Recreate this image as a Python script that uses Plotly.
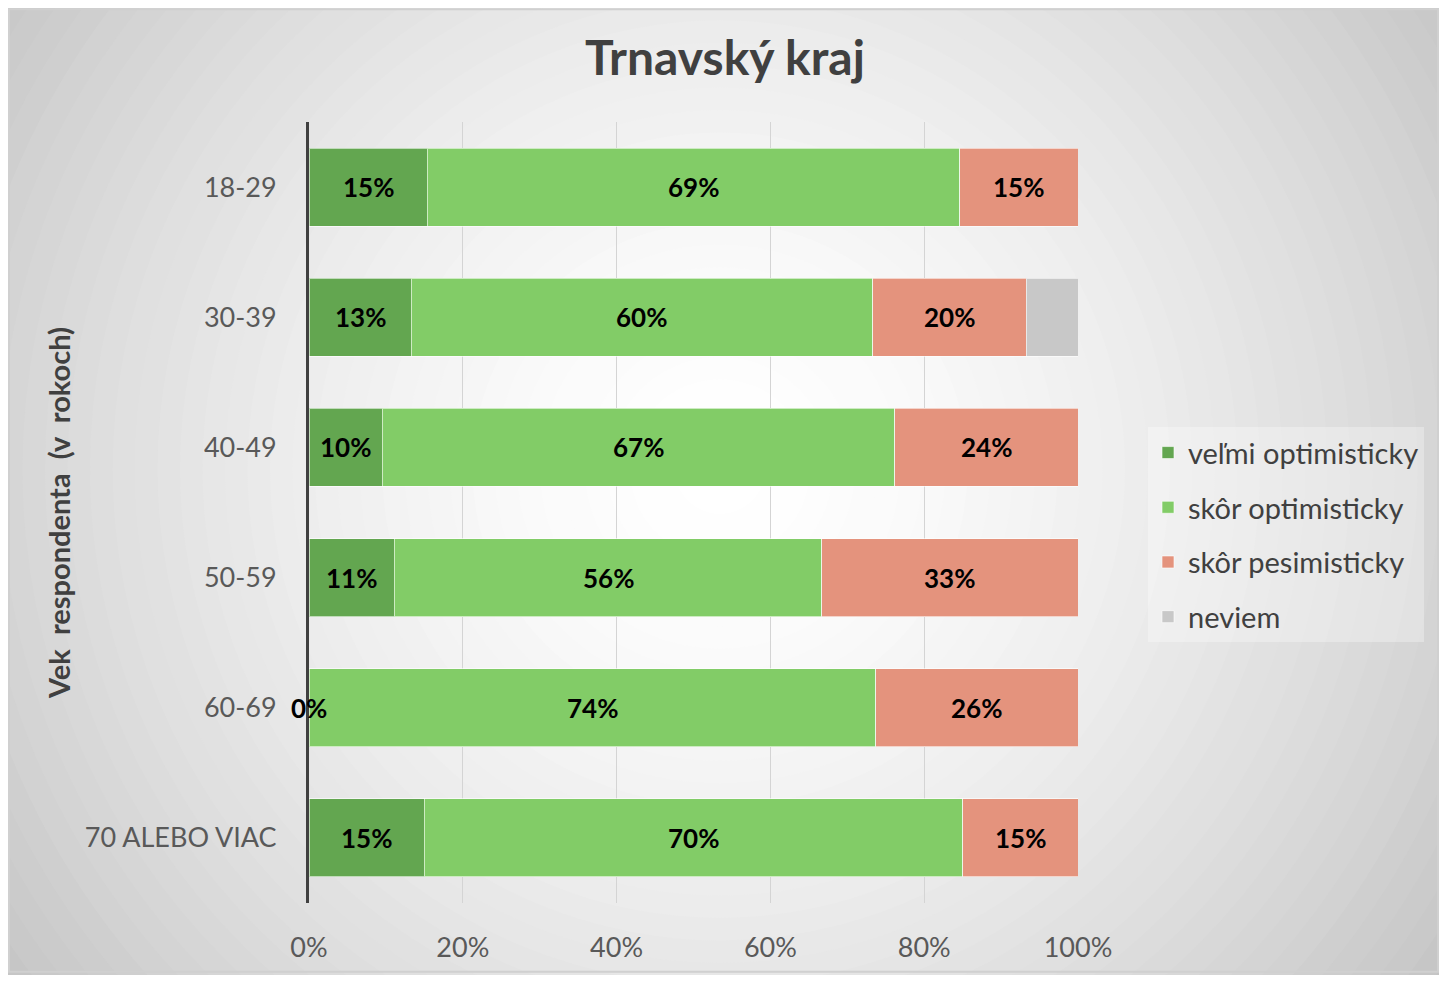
import plotly.graph_objects as go
import numpy as np

categories = ["18-29", "30-39", "40-49", "50-59", "60-69", "70 ALEBO VIAC"]
series_names = ["veľmi optimisticky", "skôr optimisticky", "skôr pesimisticky", "neviem"]
velmi_opt = [15.4, 13.3, 9.5, 11.1, 0.0, 15.0]
skor_opt = [69.2, 60.0, 66.7, 55.6, 73.7, 70.0]
skor_pes = [15.4, 20.0, 23.8, 33.3, 26.3, 15.0]
neviem = [0.0, 6.7, 0.0, 0.0, 0.0, 0.0]
x_ticks = [0, 20, 40, 60, 80, 100]
x_tick_labels = ["0%", "20%", "40%", "60%", "80%", "100%"]

colors = ["#63A650", "#82CC67", "#E4937D", "#C8C8C8"]
label_series = [True, True, True, False]

OFF = 8  # page body margin
W, H = 1447 - 2 * OFF, 983 - 2 * OFF
L, R, T, B = 309 - OFF, 1078 - OFF, 122 - OFF, 905 - OFF
FONT = "Lato, Open Sans, sans-serif"

fig = go.Figure()
series = [velmi_opt, skor_opt, skor_pes, neviem]
for name, vals, col in zip(series_names, series, colors):
    fig.add_trace(go.Bar(
        y=categories, x=vals, name=name, orientation="h",
        marker=dict(color=col, line=dict(color="rgba(255,255,255,0.6)", width=1)),
        legendgroup=name, hoverinfo="skip",
    ))

# data labels at segment centers
annotations = []
cum = np.zeros(len(categories))
for vals, show in zip(series, label_series):
    v = np.array(vals)
    if show:
        for i, c in enumerate(categories):
            annotations.append(dict(
                x=cum[i] + v[i] / 2, y=c, xref="x", yref="y",
                text=f"{round(v[i])}%", showarrow=False,
                font=dict(family=FONT, size=26, color="#000000", weight="bold"),
            ))
    cum += v

# radial gradient background via concentric circles (decoration)
shapes = []
cx, cy = 720 - OFF, 470 - OFF
rmax = 900
n = 40
def px2paper(px, py):
    return (px - L) / (R - L), (B - py) / (B - T)
for k in range(n, 0, -1):
    r = rmax * k / n
    t = (r / rmax) ** 1.6
    g = int(round(255 - t * (255 - 196)))
    x0, y0 = px2paper(cx - r, cy + r)
    x1, y1 = px2paper(cx + r, cy - r)
    shapes.append(dict(type="circle", xref="paper", yref="paper", x0=x0, x1=x1, y0=y0, y1=y1,
                       fillcolor=f"rgb({g},{g},{g})", line=dict(width=0), layer="below"))
# outer border
bx0, by0 = px2paper(1, H - 1)
bx1, by1 = px2paper(W - 1, 1)
shapes.append(dict(type="rect", xref="paper", yref="paper", x0=bx0, x1=bx1, y0=by0, y1=by1,
                   line=dict(color="#D0D0D0", width=2), fillcolor="rgba(0,0,0,0)", layer="below"))

fig.update_layout(
    width=W, height=H,
    margin=dict(l=L, r=W - R, t=T, b=H - B, pad=0),
    barmode="stack", bargap=0.4,
    paper_bgcolor="rgb(196,196,196)", plot_bgcolor="rgba(0,0,0,0)",
    font=dict(family=FONT, color="#595959"),
    title=dict(text="<b>Trnavský kraj</b>", x=(725 - OFF - L) / (R - L), xanchor="center",
               y=1 - (58 - OFF) / H, yanchor="middle",
               xref="paper", font=dict(size=48, color="#404040", family=FONT)),
    xaxis=dict(range=[0, 100], tickvals=x_ticks, ticktext=x_tick_labels, showgrid=True,
               gridcolor="#D4D4D4", gridwidth=1, zeroline=False, showline=False,
               tickfont=dict(size=27, color="#595959"), ticks="", ticklabelstandoff=26, fixedrange=True),
    yaxis=dict(autorange="reversed", showline=True, linecolor="#404040", linewidth=3,
               tickfont=dict(size=27, color="#595959"), ticks="", ticklabelstandoff=24,
               title=dict(text="<b>Vek\u00a0\u00a0respondenta\u00a0\u00a0(v\u00a0\u00a0rokoch)</b>",
                          font=dict(size=29, color="#404040"), standoff=6),
               showgrid=False),
    legend=dict(x=(1148 - OFF - L) / (R - L), y=(B - (428 - OFF)) / (B - T), xanchor="left", yanchor="top",
                bgcolor="rgba(255,255,255,0.3)", font=dict(size=29, color="#404040"),
                tracegroupgap=14, traceorder="grouped"),
    annotations=annotations, shapes=shapes, showlegend=True,
)
fig.write_html("out.html")
